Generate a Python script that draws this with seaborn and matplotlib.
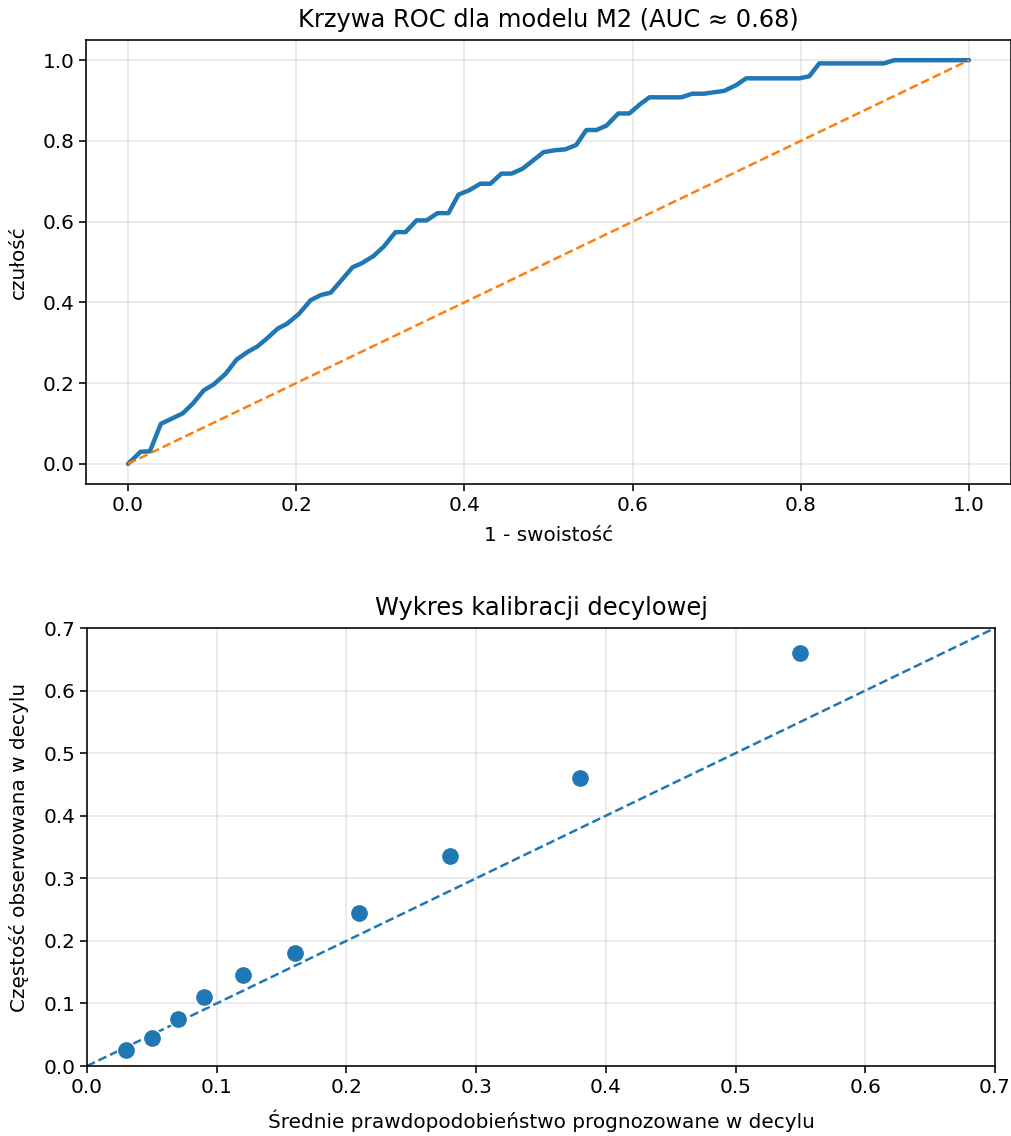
import matplotlib
matplotlib.use("Agg")
import matplotlib.pyplot as plt
import seaborn as sns
import numpy as np
import pandas as pd

# ROC curve (1 - specificity, sensitivity)
fpr = [0.0, 0.015, 0.026, 0.039, 0.051, 0.065, 0.077, 0.090, 0.102, 0.116,
       0.129, 0.142, 0.154, 0.166, 0.178, 0.189, 0.203, 0.217, 0.229, 0.241,
       0.253, 0.267, 0.278, 0.292, 0.304, 0.318, 0.330, 0.343, 0.355, 0.368,
       0.381, 0.393, 0.405, 0.419, 0.431, 0.444, 0.456, 0.469, 0.482, 0.494,
       0.508, 0.520, 0.533, 0.545, 0.557, 0.569, 0.583, 0.596, 0.609, 0.620,
       0.658, 0.671, 0.685, 0.709, 0.723, 0.735, 0.798, 0.810, 0.822, 0.899,
       0.911, 1.0]
tpr = [0.0, 0.030, 0.031, 0.099, 0.111, 0.125, 0.149, 0.182, 0.197, 0.223,
       0.258, 0.277, 0.291, 0.312, 0.335, 0.347, 0.371, 0.405, 0.418, 0.424,
       0.453, 0.487, 0.497, 0.515, 0.538, 0.574, 0.574, 0.603, 0.603, 0.621,
       0.621, 0.667, 0.677, 0.694, 0.694, 0.719, 0.719, 0.731, 0.752, 0.772,
       0.777, 0.779, 0.790, 0.827, 0.827, 0.838, 0.868, 0.868, 0.891, 0.908,
       0.908, 0.917, 0.917, 0.924, 0.938, 0.955, 0.955, 0.960, 0.992, 0.992,
       1.0, 1.0]

# Decile calibration
mean_pred = [0.03, 0.05, 0.07, 0.09, 0.12, 0.16, 0.21, 0.28, 0.38, 0.55]
obs_freq = [0.025, 0.045, 0.075, 0.11, 0.145, 0.18, 0.245, 0.335, 0.46, 0.66]

sns.set_style("ticks")
plt.rcParams['font.family'] = ['DejaVu Sans']
for k in ["text.color", "axes.labelcolor", "xtick.color", "ytick.color", "axes.edgecolor"]:
    plt.rcParams[k] = "black"

fig = plt.figure(figsize=(10.12, 11.36), dpi=100)

# --- ROC ---
ax1 = fig.add_axes([86 / 1012, 1 - 484 / 1136, 925 / 1012, 444 / 1136])
roc_df = pd.DataFrame({"fpr": fpr, "tpr": tpr})
sns.lineplot(data=roc_df, x="fpr", y="tpr", sort=False, estimator=None,
             color="#1f77b4", linewidth=3.2, ax=ax1)
ax1.plot([0, 1], [0, 1], linestyle="--", color="#ff7f0e", linewidth=1.8,
         dashes=(3.5, 1.6))
ax1.set_xlim(-0.05, 1.05)
ax1.set_ylim(-0.05, 1.05)
ax1.set_xticks([0.0, 0.2, 0.4, 0.6, 0.8, 1.0])
ax1.set_yticks([0.0, 0.2, 0.4, 0.6, 0.8, 1.0])
ax1.set_title("Krzywa ROC dla modelu M2 (AUC ≈ 0.68)", fontsize=17.4, pad=9)
ax1.set_xlabel("1 - swoistość", fontsize=14.4, labelpad=8)
ax1.set_ylabel("czułość", fontsize=14.4, labelpad=10)
ax1.tick_params(labelsize=14.4, length=5, width=1.15)
ax1.grid(True, color="#b0b0b0", alpha=0.3, linewidth=1.2)
for s in ax1.spines.values():
    s.set_linewidth(1.15)

# --- Calibration ---
ax2 = fig.add_axes([87 / 1012, 1 - 1066 / 1136, 908 / 1012, 438 / 1136])
cal_df = pd.DataFrame({"pred": mean_pred, "obs": obs_freq})
ax2.plot([0, 0.7], [0, 0.7], linestyle="--", color="#1f77b4", linewidth=1.8,
         dashes=(3.5, 1.6))
sns.scatterplot(data=cal_df, x="pred", y="obs", color="#1f77b4", s=170,
                edgecolor="white", linewidth=1.0, ax=ax2, zorder=3)
ax2.set_xlim(0, 0.7)
ax2.set_ylim(0, 0.7)
ax2.set_xticks(np.arange(0, 0.71, 0.1))
ax2.set_yticks(np.arange(0, 0.71, 0.1))
ax2.set_xticklabels(["0.0", "0.1", "0.2", "0.3", "0.4", "0.5", "0.6", "0.7"])
ax2.set_yticklabels(["0.0", "0.1", "0.2", "0.3", "0.4", "0.5", "0.6", "0.7"])
ax2.set_title("Wykres kalibracji decylowej", fontsize=17.4, pad=9)
ax2.set_xlabel("Średnie prawdopodobieństwo prognozowane w decylu", fontsize=14.4, labelpad=9)
ax2.set_ylabel("Częstość obserwowana w decylu", fontsize=14.4, labelpad=10)
ax2.tick_params(labelsize=14.4, length=5, width=1.15)
ax2.grid(True, color="#b0b0b0", alpha=0.3, linewidth=1.2)
for s in ax2.spines.values():
    s.set_linewidth(1.15)

fig.savefig("out.png", dpi=100)
